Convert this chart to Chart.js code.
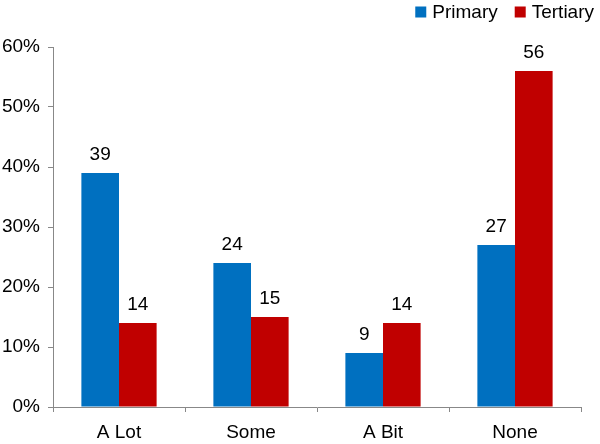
<!DOCTYPE html>
<html>
<head>
<meta charset="utf-8">
<script src="https://cdn.jsdelivr.net/npm/chart.js@4"></script>
<style>
html,body{margin:0;padding:0;background:#fff;}
#wrap{width:600px;height:444px;position:relative;}
</style>
</head>
<body>
<div id="wrap"><canvas id="c" width="600" height="444"></canvas></div>
<script>
const categories = ["A Lot", "Some", "A Bit", "None"];
const seriesNames = ["Primary", "Tertiary"];
const primary = [39, 24, 9, 27];
const tertiary = [14, 15, 14, 56];
const yTicks = [0, 10, 20, 30, 40, 50, 60];

const FONT = "'Liberation Sans', Arial, Helvetica, sans-serif";
const FS = 19;

const valueLabels = {
  id: 'valueLabels',
  afterDatasetsDraw(chart) {
    const ctx = chart.ctx;
    ctx.save();
    ctx.font = FS + 'px ' + FONT;
    ctx.fillStyle = '#000';
    ctx.textAlign = 'center';
    ctx.textBaseline = 'alphabetic';
    chart.data.datasets.forEach((ds, i) => {
      chart.getDatasetMeta(i).data.forEach((bar, j) => {
        ctx.fillText(String(ds.data[j]), bar.x, bar.y - 13);
      });
    });
    ctx.restore();
  }
};

// Legend drawn top-right, items taken from the datasets
const topLegend = {
  id: 'topLegend',
  afterDraw(chart) {
    const ctx = chart.ctx;
    ctx.save();
    ctx.font = FS + 'px ' + FONT;
    ctx.textBaseline = 'alphabetic';
    ctx.textAlign = 'left';
    const box = 11, gapBoxText = 6, gapItems = 17, rightEdge = chart.width - 6, baseline = 18;
    const items = chart.data.datasets.map(ds => ({ text: ds.label, color: ds.backgroundColor, w: ctx.measureText(ds.label).width }));
    let total = 0;
    items.forEach((it, k) => { total += box + gapBoxText + it.w + (k ? gapItems : 0); });
    let x = rightEdge - total;
    items.forEach(it => {
      ctx.fillStyle = it.color;
      ctx.fillRect(x, baseline - 11.5, box, box);
      x += box + gapBoxText;
      ctx.fillStyle = '#000';
      ctx.fillText(it.text, x, baseline);
      x += it.w + gapItems;
    });
    ctx.restore();
  }
};

new Chart(document.getElementById('c'), {
  type: 'bar',
  data: {
    labels: categories,
    datasets: [
      { label: seriesNames[0], data: primary, backgroundColor: '#0070C0', borderWidth: 0 },
      { label: seriesNames[1], data: tertiary, backgroundColor: '#C00000', borderWidth: 0 }
    ]
  },
  options: {
    responsive: false,
    animation: false,
    devicePixelRatio: 1,
    layout: { padding: { top: 47, right: 19, left: 0, bottom: 0 } },
    datasets: { bar: { categoryPercentage: 0.57, barPercentage: 1.0 } },
    plugins: {
      legend: { display: false },
      tooltip: { enabled: false },
      title: { display: false }
    },
    scales: {
      x: {
        grid: { display: true, drawOnChartArea: false, drawTicks: true, tickLength: 5, color: '#888', offset: true },
        border: { color: '#888', width: 1 },
        ticks: { color: '#000', font: { size: FS, family: FONT }, padding: 9 },
        afterFit(s) { s.height = 37; }
      },
      y: {
        min: 0, max: 60,
        afterBuildTicks(s) { s.ticks = yTicks.map(v => ({ value: v })); },
        grid: { display: true, drawOnChartArea: false, drawTicks: true, tickLength: 5, color: '#888' },
        border: { color: '#888', width: 1 },
        ticks: { color: '#000', font: { size: FS, family: FONT }, padding: 8, callback: v => v + '%' },
        afterFit(s) { s.width = 53; }
      }
    }
  },
  plugins: [valueLabels, topLegend]
});
</script>
</body>
</html>
